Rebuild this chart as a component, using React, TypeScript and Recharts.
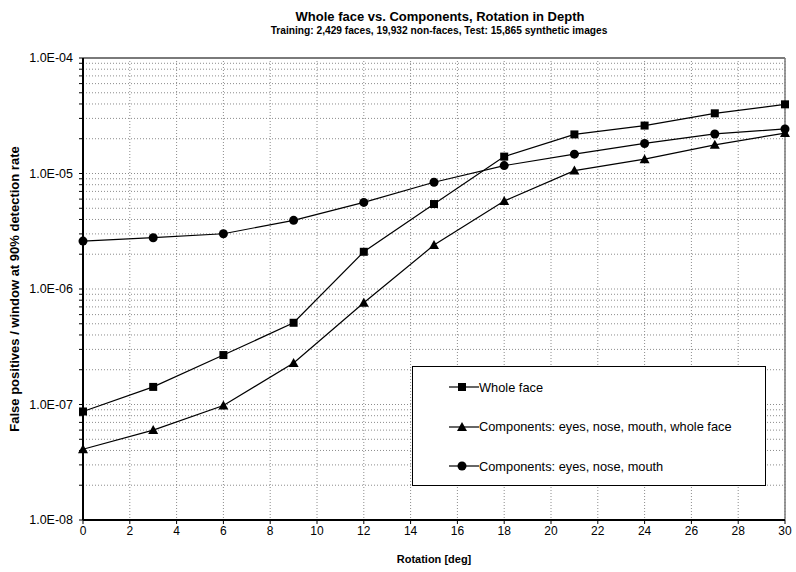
import React from "react";
import {
  CartesianGrid,
  Legend,
  Line,
  LineChart,
  ReferenceLine,
  XAxis,
  YAxis,
} from "recharts";

// rotation angle in degrees
const rotation = [0, 3, 6, 9, 12, 15, 18, 21, 24, 27, 30];

// false positives per window at 90% detection rate
const wholeFace = [8.7e-8, 1.42e-7, 2.68e-7, 5.1e-7, 2.1e-6, 5.44e-6, 1.4e-5, 2.18e-5, 2.6e-5, 3.32e-5, 3.97e-5];
const componentsWithFace = [4.1e-8, 6.0e-8, 9.8e-8, 2.29e-7, 7.6e-7, 2.4e-6, 5.78e-6, 1.06e-5, 1.33e-5, 1.77e-5, 2.24e-5];
const componentsOnly = [2.6e-6, 2.78e-6, 3.01e-6, 3.93e-6, 5.62e-6, 8.4e-6, 1.17e-5, 1.47e-5, 1.82e-5, 2.2e-5, 2.43e-5];

const xTicks = [0, 2, 4, 6, 8, 10, 12, 14, 16, 18, 20, 22, 24, 26, 28, 30];
const decades = [1e-8, 1e-7, 1e-6, 1e-5, 1e-4];
const minorSteps = [1, 2, 3, 4, 5, 6, 7, 8, 9];
const yTicks = decades
  .slice(0, -1)
  .flatMap((d) => minorSteps.map((m) => m * d))
  .concat([decades[decades.length - 1]]);

const data = rotation.map((r, i) => ({
  rotation: r,
  whole: wholeFace[i],
  compFace: componentsWithFace[i],
  comp: componentsOnly[i],
}));

const FONT = '"Liberation Sans", Arial, sans-serif';

type Shape = "square" | "triangle" | "circle";

const series: { key: string; name: string; shape: Shape }[] = [
  { key: "whole", name: "Whole face", shape: "square" },
  { key: "compFace", name: "Components: eyes, nose, mouth, whole face", shape: "triangle" },
  { key: "comp", name: "Components: eyes, nose, mouth", shape: "circle" },
];

function marker(shape: Shape, cx: number, cy: number, key?: string | number) {
  if (shape === "square") {
    return <rect key={key} x={cx - 4} y={cy - 4} width={8} height={8} fill="#000" />;
  }
  if (shape === "triangle") {
    return (
      <polygon
        key={key}
        points={`${cx},${cy - 5} ${cx + 5},${cy + 4} ${cx - 5},${cy + 4}`}
        fill="#000"
      />
    );
  }
  return <circle key={key} cx={cx} cy={cy} r={4.5} fill="#000" />;
}

function fmtY(v: number) {
  const e = Math.log10(v);
  const r = Math.round(e);
  if (Math.abs(e - r) > 1e-6) return "";
  const sign = r < 0 ? "-" : "+";
  return `1.0E${sign}${String(Math.abs(r)).padStart(2, "0")}`;
}

function LegendBox() {
  return (
    <div
      style={{
        width: "100%",
        height: "100%",
        boxSizing: "border-box",
        border: "1px solid #000",
        background: "#fff",
        position: "relative",
        fontFamily: FONT,
      }}
    >
      {series.map((s, i) => (
        <div
          key={s.key}
          style={{
            position: "absolute",
            left: 36,
            top: 12 + i * 39.5,
            height: 16,
            display: "flex",
            alignItems: "center",
            fontSize: 12.8,
            color: "#000",
            whiteSpace: "nowrap",
          }}
        >
          <svg width={30} height={16} style={{ display: "block" }}>
            <line x1={0} y1={8} x2={30} y2={8} stroke="#000" strokeWidth={1.2} />
            {marker(s.shape, 13, 8)}
          </svg>
          <span>{s.name}</span>
        </div>
      ))}
    </div>
  );
}

export default function App() {
  return (
    <div
      style={{
        position: "absolute",
        left: 0,
        top: 0,
        width: 796,
        height: 572,
        background: "#fff",
        fontFamily: FONT,
      }}
    >
      <div
        style={{
          position: "absolute",
          left: 0,
          width: 880,
          top: 9,
          textAlign: "center",
          fontWeight: "bold",
          fontSize: 13,
          color: "#000",
        }}
      >
        Whole face vs. Components, Rotation in Depth
      </div>
      <div
        style={{
          position: "absolute",
          left: 0,
          width: 878,
          top: 25,
          textAlign: "center",
          fontWeight: "bold",
          fontSize: 10.2,
          color: "#000",
        }}
      >
        Training: 2,429 faces, 19,932 non-faces, Test: 15,865 synthetic images
      </div>
      <LineChart
        width={796}
        height={572}
        data={data}
        margin={{ top: 58, right: 11, bottom: 0, left: 0 }}
        style={{ fontFamily: FONT }}
      >
        <CartesianGrid stroke="#8c8c8c" strokeDasharray="1 2" strokeWidth={1} />
        <XAxis
          dataKey="rotation"
          type="number"
          domain={[0, 30]}
          ticks={xTicks}
          interval={0}
          height={52}
          axisLine={{ stroke: "#000", strokeWidth: 2 }}
          tickLine={{ stroke: "#000" }}
          tickSize={4}
          tick={{ fill: "#000", fontSize: 12 }}
          label={{
            content: (p: any) => {
              const vb = p.viewBox || { x: 83, width: 702, y: 520 };
              return (
                <text
                  x={vb.x + vb.width / 2}
                  y={563}
                  textAnchor="middle"
                  fontWeight="bold"
                  fontSize={11}
                  fill="#000"
                >
                  Rotation [deg]
                </text>
              );
            },
          }}
        />
        <YAxis
          type="number"
          scale="log"
          domain={[1e-8, 1e-4]}
          allowDataOverflow
          ticks={yTicks}
          interval={0}
          width={83}
          tickFormatter={fmtY}
          axisLine={{ stroke: "#000", strokeWidth: 2 }}
          tickLine={{ stroke: "#000" }}
          tickSize={4}
          tickMargin={6}
          tick={{ fill: "#000", fontSize: 12.5 }}
          label={{
            content: () => (
              <text
                x={0}
                y={0}
                transform="translate(19, 289) rotate(-90)"
                textAnchor="middle"
                fontWeight="bold"
                fontSize={13}
                fill="#000"
              >
                False positives / window at 90% detection rate
              </text>
            ),
          }}
        />
        <ReferenceLine y={1e-4} stroke="#7a7a7a" strokeWidth={2} />
        <ReferenceLine x={30} stroke="#7a7a7a" strokeWidth={1.5} />
        {series.map((s) => (
          <Line
            key={s.key}
            dataKey={s.key}
            name={s.name}
            type="linear"
            stroke="#000"
            strokeWidth={1.2}
            isAnimationActive={false}
            dot={(p: any) => marker(s.shape, p.cx, p.cy, `${s.key}-${p.index}`)}
            activeDot={false}
          />
        ))}
        <Legend
          layout="vertical"
          align="center"
          verticalAlign="middle"
          content={() => <LegendBox />}
          wrapperStyle={{ left: 412, top: 366, width: 354, height: 120 }}
        />
      </LineChart>
    </div>
  );
}
